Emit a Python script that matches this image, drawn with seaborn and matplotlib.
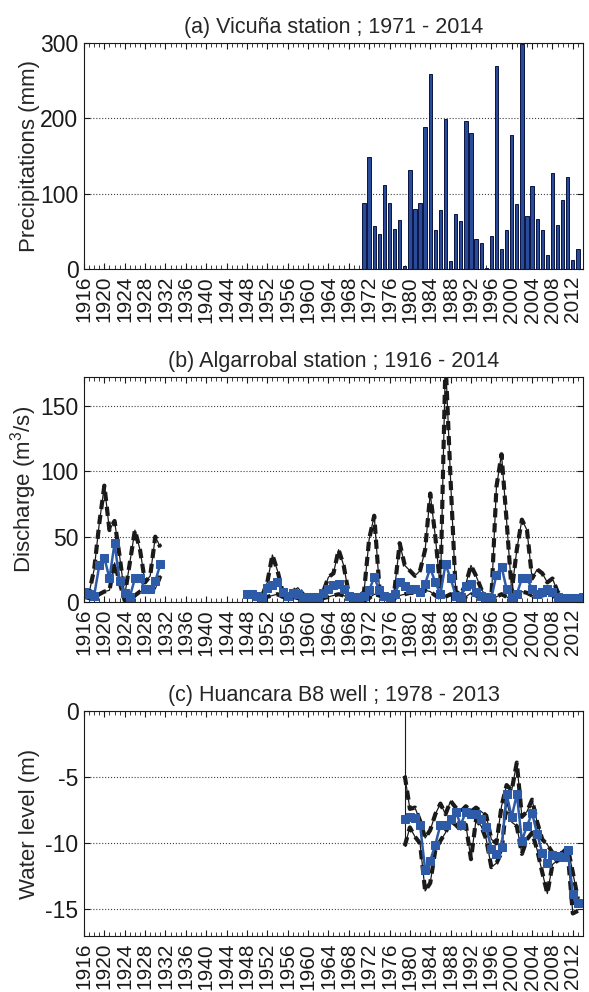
import matplotlib
matplotlib.use('Agg')
import matplotlib.pyplot as plt
from matplotlib.ticker import MultipleLocator
import seaborn as sns

# (a) annual precipitation, Vicuna station
rain_years = list(range(1971, 2014))
rain_mm = [87, 149, 57, 47, 111, 88, 53, 65, 4, 132, 80, 88, 188, 259, 52, 78,
           199, 10, 73, 64, 196, 180, 40, 34, 2, 44, 270, 26, 52, 178, 86, 299,
           71, 110, 66, 52, 18, 128, 59, 92, 122, 12, 27]

# (b) discharge, Algarrobal station (two records separated by a gap)
flow_years_1 = list(range(1916, 1932))
flow_high_1 = [8, 7, 25, 60, 89, 55, 62, 35, 5, 30, 55, 40, 15, 20, 50, 42]
flow_mid_1 = [8, 6, 5, 28, 34, 18, 45, 16, 7, 4, 18, 18, 10, 10, 16, 29]
flow_low_1 = [4, 3, 3, 6, 8, 9, 30, 15, 1, 1, 5, 8, 9, 8, 10, 20]

flow_years_2 = list(range(1948, 2015))
flow_high_2 = [6, 6, 5, 5, 15, 36, 24, 8, 4, 8, 11, 6, 4, 4, 4, 8, 19, 22, 40, 28,
               6, 3, 3, 8, 48, 66, 12, 3, 3, 10, 45, 28, 24, 20, 24, 40, 83, 50,
               10, 185, 93, 8, 6, 14, 28, 20, 10, 4, 2, 88, 113, 62, 8, 40, 63,
               55, 18, 25, 22, 15, 18, 8, 3, 3, 3, 3, 3]
flow_mid_2 = [6, 6, 5, 4, 11, 13, 15, 8, 5, 7, 6, 4, 4, 4, 4, 7, 10, 13, 14, 10,
              5, 4, 4, 5, 9, 19, 9, 5, 4, 6, 15, 12, 10, 10, 8, 14, 26, 15, 6,
              29, 18, 5, 4, 12, 14, 8, 5, 4, 3, 21, 27, 10, 4, 6, 18, 18, 10, 6,
              8, 10, 8, 4, 3, 3, 3, 3, 4]
flow_low_2 = [5, 5, 4, 3, 4, 5, 6, 4, 3, 4, 3, 3, 3, 3, 3, 3, 4, 5, 6, 5, 3, 2,
              2, 1, 3, 6, 5, 3, 2, 3, 5, 6, 7, 7, 6, 9, 8, 5, 3, 4, 6, 3, 2, 4,
              7, 5, 3, 2, 1, 4, 6, 4, 2, 4, 8, 7, 5, 4, 5, 6, 5, 3, 2, 2, 2, 2, 3]

# (c) water level, Huancara B8 well
well_years = list(range(1979, 2014))
well_high = [-4.9, -7.4, -7.3, -8.3, -9.6, -9.0, -7.8, -7.0, -7.8, -6.8, -7.3,
             -7.6, -7.2, -7.6, -7.3, -7.6, -7.9, -9.7, -10.0, -7.2, -5.6, -6.0,
             -3.9, -8.0, -7.6, -6.7, -8.4, -9.7, -10.1, -10.7, -10.8, -10.7,
             -10.3, -12.2, -14.2]
well_mid = [-8.2, -8.0, -8.1, -8.6, -12.0, -11.3, -10.1, -8.6, -8.6, -8.2, -7.6,
            -8.6, -7.6, -7.8, -7.8, -8.2, -8.8, -10.4, -10.8, -10.3, -6.3, -8.0,
            -6.3, -9.8, -8.7, -7.7, -9.3, -10.7, -11.5, -10.9, -10.95, -11.0,
            -10.5, -13.8, -14.5]
well_low = [-10.2, -8.8, -9.5, -10.0, -13.6, -13.0, -10.5, -9.8, -9.2, -8.3,
            -8.6, -9.0, -8.6, -11.2, -8.2, -8.7, -9.7, -11.8, -11.5, -10.7,
            -6.8, -8.4, -8.7, -10.8, -9.7, -9.2, -10.5, -12.2, -13.8, -11.6,
            -11.3, -11.2, -10.7, -15.3, -15.1]
well_spike_years = [1979, 1979]
well_spike_level = [0.0, -10.2]

year_ticks = list(range(1916, 2013, 4))

BLUE = '#2E5BA8'

sns.set_theme(style='white')
plt.rcParams['font.family'] = ['Liberation Sans', 'DejaVu Sans']
plt.rcParams['axes.unicode_minus'] = False
plt.rcParams['mathtext.default'] = 'regular'


def envelope(ax, years, values):
    sns.lineplot(x=years, y=values, ax=ax, color='k', lw=0.9,
                 estimator=None, sort=False)
    sns.lineplot(x=years, y=values, ax=ax, color='k', lw=3,
                 linestyle=(0, (2.2, 1.4)), estimator=None, sort=False)


def middle(ax, years, values):
    sns.lineplot(x=years, y=values, ax=ax, color=BLUE, lw=1.8,
                 marker='s', markersize=5.5, markeredgecolor=BLUE,
                 estimator=None, sort=False)


fig = plt.figure(figsize=(5.89, 9.92), dpi=100)
ax_a = fig.add_axes([0.1426, 0.7288, 0.8472, 0.2278])
ax_b = fig.add_axes([0.1426, 0.3931, 0.8472, 0.2268])
ax_c = fig.add_axes([0.1426, 0.0565, 0.8472, 0.2268])

# (a)
sns.barplot(x=rain_years, y=rain_mm, native_scale=True, width=0.65,
            color='#2A4A9A', saturation=1, edgecolor='#0A1440', linewidth=0.7,
            errorbar=None, ax=ax_a)
ax_a.set_ylim(0, 300)
ax_a.set_yticks([0, 100, 200, 300])
ax_a.set_ylabel('Precipitations (mm)', fontsize=16, labelpad=0)
ax_a.set_title('(a) Vicuña station ; 1971 - 2014', fontsize=15.5, pad=7)

# (b)
for yrs, hi, mid, lo in [(flow_years_1, flow_high_1, flow_mid_1, flow_low_1),
                         (flow_years_2, flow_high_2, flow_mid_2, flow_low_2)]:
    envelope(ax_b, yrs, hi)
    envelope(ax_b, yrs, lo)
    middle(ax_b, yrs, mid)
ax_b.set_ylim(0, 172)
ax_b.set_yticks([0, 50, 100, 150])
ax_b.set_ylabel('Discharge (m$^3$/s)', fontsize=16, labelpad=1)
ax_b.set_title('(b) Algarrobal station ; 1916 - 2014', fontsize=15.5, pad=7)

# (c)
sns.lineplot(x=well_spike_years, y=well_spike_level, ax=ax_c, color='k',
             lw=0.8, estimator=None, sort=False)
envelope(ax_c, well_years, well_high)
envelope(ax_c, well_years, well_low)
middle(ax_c, well_years, well_mid)
ax_c.set_ylim(-17, 0)
ax_c.set_yticks([0, -5, -10, -15])
ax_c.set_ylabel('Water level (m)', fontsize=16)
ax_c.set_title('(c) Huancara B8 well ; 1978 - 2013', fontsize=15.5, pad=7)

for ax in (ax_a, ax_b, ax_c):
    ax.set_xlim(1916, 2014)
    ax.set_xticks(year_ticks)
    ax.set_xticklabels([str(y) for y in year_ticks], rotation=90, fontsize=15)
    ax.xaxis.set_minor_locator(MultipleLocator(1))
    ax.set_xlabel('')
    ax.tick_params(which='both', direction='in', top=True, right=True,
                   bottom=True, left=True, colors='k')
    ax.tick_params(which='major', length=4, width=0.8)
    ax.tick_params(which='minor', length=3, width=0.6)
    ax.tick_params(axis='y', labelsize=16.5, pad=4)
    ax.tick_params(axis='x', pad=5)
    ax.grid(axis='y', ls=':', color='0.25', lw=0.8)
    for s in ax.spines.values():
        s.set_color('k')
        s.set_linewidth(0.8)

fig.savefig('out.png', dpi=100)
plt.close(fig)
